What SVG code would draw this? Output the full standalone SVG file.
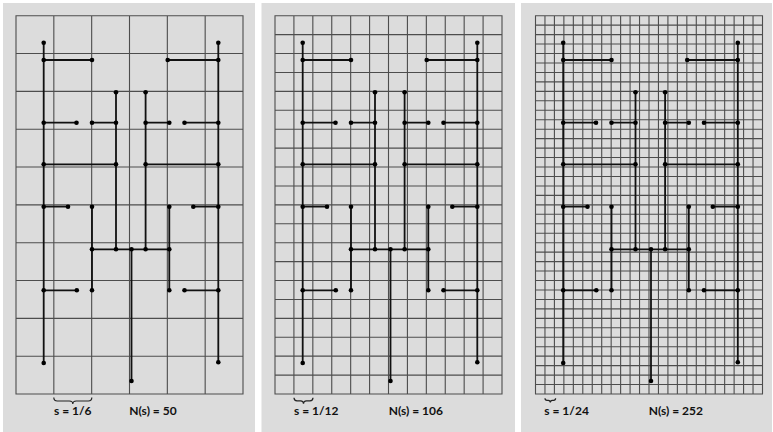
<svg xmlns="http://www.w3.org/2000/svg" xmlns:xlink="http://www.w3.org/1999/xlink" width="773" height="432" viewBox="0 0 773 432">
<style>
.bg{fill:#dcdcdc}
.grid{fill:none;stroke:#4d4d4d;stroke-width:1.1}
.tree{fill:none;stroke:#111;stroke-width:1.8}
.dot{fill:#000}
.brace{fill:none;stroke:#222;stroke-width:1.2}
.lbl{font-family:Lato,"Liberation Sans",sans-serif;font-weight:700;font-size:12px;fill:#111}
</style>
<defs>
<g id="tree">
<path class="tree" d="M27.7,27V347.3M202.3,27V346.5M27.7,44.3H76M151.7,44.3H202.3M100,76.6V233.6M129.6,76.6V233.6M27.7,107H60.5M76,107H100M129.6,107H153.3M168.5,107H202.3M27.7,148.6H100M129.6,148.6H202.3M27.7,191H52M177.3,191H202.3M76,191V274.6M153.3,191V274.6M76,233.6H153.3M115.5,233.6V365.3M27.7,274.6H60.8M168.5,274.6H202.3"/>
<g class="dot">
<circle cx="27.7" cy="27" r="2.3"/><circle cx="202.3" cy="27" r="2.3"/>
<circle cx="27.7" cy="44.3" r="2.3"/><circle cx="76" cy="44.3" r="2.3"/><circle cx="151.7" cy="44.3" r="2.3"/><circle cx="202.3" cy="44.3" r="2.3"/>
<circle cx="100" cy="76.6" r="2.3"/><circle cx="129.6" cy="76.6" r="2.3"/>
<circle cx="27.7" cy="107" r="2.3"/><circle cx="60.5" cy="107" r="2.3"/><circle cx="76" cy="107" r="2.3"/><circle cx="100" cy="107" r="2.3"/><circle cx="129.6" cy="107" r="2.3"/><circle cx="153.3" cy="107" r="2.3"/><circle cx="168.5" cy="107" r="2.3"/><circle cx="202.3" cy="107" r="2.3"/>
<circle cx="27.7" cy="148.6" r="2.3"/><circle cx="100" cy="148.6" r="2.3"/><circle cx="129.6" cy="148.6" r="2.3"/><circle cx="202.3" cy="148.6" r="2.3"/>
<circle cx="27.7" cy="191" r="2.3"/><circle cx="52" cy="191" r="2.3"/><circle cx="76" cy="191" r="2.3"/><circle cx="153.3" cy="191" r="2.3"/><circle cx="177.3" cy="191" r="2.3"/><circle cx="202.3" cy="191" r="2.3"/>
<circle cx="76" cy="233.6" r="2.3"/><circle cx="100" cy="233.6" r="2.3"/><circle cx="115.5" cy="233.6" r="2.3"/><circle cx="129.6" cy="233.6" r="2.3"/><circle cx="153.3" cy="233.6" r="2.3"/>
<circle cx="27.7" cy="274.6" r="2.3"/><circle cx="60.8" cy="274.6" r="2.3"/><circle cx="76" cy="274.6" r="2.3"/><circle cx="153.3" cy="274.6" r="2.3"/><circle cx="168.5" cy="274.6" r="2.3"/><circle cx="202.3" cy="274.6" r="2.3"/>
<circle cx="27.7" cy="347.3" r="2.3"/><circle cx="202.3" cy="346.5" r="2.3"/><circle cx="115.5" cy="365.3" r="2.3"/>
</g>
</g>
</defs>
<rect width="773" height="432" fill="#fff"/>

<g id="panel1">
<rect class="bg" x="3" y="3" width="252" height="429"/>
<path class="grid" d="M16,15.7h227v378.3h-227zM53.83,15.7V394M91.67,15.7V394M129.5,15.7V394M167.33,15.7V394M205.17,15.7V394M16,53.53H243M16,91.37H243M16,129.2H243M16,167.03H243M16,204.87H243M16,242.7H243M16,280.53H243M16,318.37H243M16,356.2H243"/>
<use xlink:href="#tree" href="#tree" transform="translate(16,15.7)"/>
<path class="brace" d="M53.8,397.5q0,3.5 3.5,3.5h12q3.5,0 3.5,3q0,-3 3.5,-3h12q3.5,0 3.5,-3.5"/>
<text class="lbl" x="54" y="415">s = 1/6</text>
<text class="lbl" x="129.3" y="415">N(s) = 50</text>
</g>

<g id="panel2">
<rect class="bg" x="261.5" y="3" width="253.5" height="429"/>
<path class="grid" d="M275,15.7h227v378.3h-227zM275,15.7m18.917,0v378.3m18.917,-378.3v378.3m18.917,-378.3v378.3m18.917,-378.3v378.3m18.917,-378.3v378.3m18.917,-378.3v378.3m18.917,-378.3v378.3m18.917,-378.3v378.3m18.917,-378.3v378.3m18.917,-378.3v378.3m18.917,-378.3v378.3M275,15.7m0,18.915h227m-227,18.915h227m-227,18.915h227m-227,18.915h227m-227,18.915h227m-227,18.915h227m-227,18.915h227m-227,18.915h227m-227,18.915h227m-227,18.915h227m-227,18.915h227m-227,18.915h227m-227,18.915h227m-227,18.915h227m-227,18.915h227m-227,18.915h227m-227,18.915h227m-227,18.915h227m-227,18.915h227"/>
<use xlink:href="#tree" href="#tree" transform="translate(275,15.7)"/>
<path class="brace" d="M294,397.8q0,3 3,3h3.5q3,0 3,3q0,-3 3,-3h3.5q3,0 3,-3"/>
<text class="lbl" x="294" y="415">s = 1/12</text>
<text class="lbl" x="388.7" y="415">N(s) = 106</text>
</g>

<g id="panel3">
<rect class="bg" x="521" y="3" width="251" height="429"/>
<path class="grid" d="M535.5,15.7h227v378.3h-227zM535.5,15.7m9.458,0v378.3m9.458,-378.3v378.3m9.458,-378.3v378.3m9.458,-378.3v378.3m9.458,-378.3v378.3m9.458,-378.3v378.3m9.458,-378.3v378.3m9.458,-378.3v378.3m9.458,-378.3v378.3m9.458,-378.3v378.3m9.458,-378.3v378.3m9.458,-378.3v378.3m9.458,-378.3v378.3m9.458,-378.3v378.3m9.458,-378.3v378.3m9.458,-378.3v378.3m9.458,-378.3v378.3m9.458,-378.3v378.3m9.458,-378.3v378.3m9.458,-378.3v378.3m9.458,-378.3v378.3m9.458,-378.3v378.3m9.458,-378.3v378.3M535.5,15.7m0,9.4575h227m-227,9.4575h227m-227,9.4575h227m-227,9.4575h227m-227,9.4575h227m-227,9.4575h227m-227,9.4575h227m-227,9.4575h227m-227,9.4575h227m-227,9.4575h227m-227,9.4575h227m-227,9.4575h227m-227,9.4575h227m-227,9.4575h227m-227,9.4575h227m-227,9.4575h227m-227,9.4575h227m-227,9.4575h227m-227,9.4575h227m-227,9.4575h227m-227,9.4575h227m-227,9.4575h227m-227,9.4575h227m-227,9.4575h227m-227,9.4575h227m-227,9.4575h227m-227,9.4575h227m-227,9.4575h227m-227,9.4575h227m-227,9.4575h227m-227,9.4575h227m-227,9.4575h227m-227,9.4575h227m-227,9.4575h227m-227,9.4575h227m-227,9.4575h227m-227,9.4575h227m-227,9.4575h227m-227,9.4575h227"/>
<use xlink:href="#tree" href="#tree" transform="translate(535.5,15.7)"/>
<path class="brace" d="M545,398.3q0,2 2,2h1.3q2,0 2,2.3q0,-2.3 2,-2.3h1.3q2,0 2,-2"/>
<text class="lbl" x="544.3" y="415">s = 1/24</text>
<text class="lbl" x="648.7" y="415">N(s) = 252</text>
</g>
</svg>
